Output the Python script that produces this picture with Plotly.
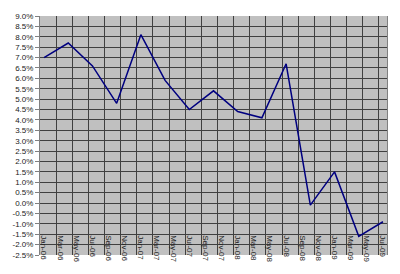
import plotly.graph_objects as go

# Quarterly observations
months = ["Jan-06", "Apr-06", "Jul-06", "Oct-06",
          "Jan-07", "Apr-07", "Jul-07", "Oct-07",
          "Jan-08", "Apr-08", "Jul-08", "Oct-08",
          "Jan-09", "Apr-09", "Jul-09"]
rates = [7.0, 7.7, 6.6, 4.8,
         8.1, 5.9, 4.5, 5.4,
         4.4, 4.1, 6.7, -0.1,
         1.5, -1.6, -0.9]

# Category axis labels (every two months)
tick_labels = ["Jan-06", "Mar-06", "May-06", "Jul-06", "Sep-06", "Nov-06",
               "Jan-07", "Mar-07", "May-07", "Jul-07", "Sep-07", "Nov-07",
               "Jan-08", "Mar-08", "May-08", "Jul-08", "Sep-08", "Nov-08",
               "Jan-09", "Mar-09", "May-09", "Jul-09"]

# Value axis ticks
y_ticks = [-2.5, -2.0, -1.5, -1.0, -0.5, 0.0, 0.5, 1.0, 1.5, 2.0, 2.5, 3.0,
           3.5, 4.0, 4.5, 5.0, 5.5, 6.0, 6.5, 7.0, 7.5, 8.0, 8.5, 9.0]
y_tick_text = [f"{v:.1f}%" for v in y_ticks]

MON = {"Jan": 0, "Feb": 1, "Mar": 2, "Apr": 3, "May": 4, "Jun": 5,
       "Jul": 6, "Aug": 7, "Sep": 8, "Oct": 9, "Nov": 10, "Dec": 11}


def month_index(label):
    m, y = label.split("-")
    return (int(y) - 6) * 12 + MON[m]


x_vals = [month_index(m) for m in months]
tick_vals = [month_index(t) for t in tick_labels]

FONT = "Liberation Sans, Arial, sans-serif"
GRID = "#404040"

fig = go.Figure()
fig.add_trace(go.Scatter(
    x=x_vals, y=rates, mode="lines",
    line=dict(color="#000080", width=1.5),
    hoverinfo="skip", showlegend=False,
))

fig.update_layout(
    width=400, height=274,
    margin=dict(l=36, r=13, t=14, b=12),
    paper_bgcolor="white",
    plot_bgcolor="#c0c0c0",
    font=dict(family=FONT, size=8, color="#222"),
    xaxis=dict(
        range=[-0.5, tick_vals[-1] + 0.5],
        tickmode="array", tickvals=tick_vals, ticktext=tick_labels,
        tickangle=90, showgrid=False, zeroline=False, ticks="",
        showline=False,
        minor=dict(tick0=-0.5, dtick=2, showgrid=True, gridcolor=GRID,
                   gridwidth=1, ticks=""),
        anchor="free", position=0.087,
        tickfont=dict(family=FONT, size=8, color="#222"),
    ),
    yaxis=dict(
        range=[y_ticks[0], y_ticks[-1]],
        tickmode="array", tickvals=y_ticks, ticktext=y_tick_text,
        showgrid=True, gridcolor=GRID, gridwidth=1, zeroline=False,
        ticks="outside", ticklen=4, tickcolor="#808080",
        showline=True, mirror=True, linecolor="#808080", linewidth=1,
        tickfont=dict(family=FONT, size=8, color="#222"),
    ),
)

fig.write_html("out.html")
